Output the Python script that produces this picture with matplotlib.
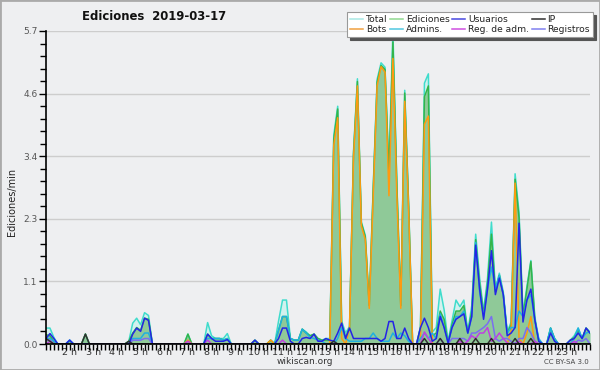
import numpy as np
import matplotlib
matplotlib.use('Agg')
import matplotlib.pyplot as plt
from matplotlib.lines import Line2D
from matplotlib.patches import Rectangle

# 10-minute buckets, starting at 1 h (one row per hour)
start_hour = 1
step_hours = 1 / 6

total = [
    0.29, 0.29, 0.12, 0, 0, 0,
    0.07, 0, 0, 0, 0.18, 0,
    0, 0, 0, 0, 0, 0,
    0, 0, 0, 0.05, 0.38, 0.47,
    0.35, 0.57, 0.52, 0, 0, 0,
    0, 0, 0, 0, 0, 0,
    0.18, 0, 0, 0, 0, 0.39,
    0.15, 0.1, 0.1, 0.1, 0.19, 0,
    0, 0, 0, 0, 0, 0.07,
    0, 0, 0, 0.07, 0, 0.42,
    0.8, 0.8, 0.1, 0.07, 0.07, 0.27,
    0.22, 0.15, 0.18, 0.1, 0.07, 0.1,
    0.1, 3.8, 4.33, 0.42, 0.2, 0.32,
    3.5, 4.83, 2.22, 1.98, 0.72, 2.85,
    4.82, 5.12, 5.04, 3.12, 5.7, 2.93,
    0.72, 4.62, 2.52, 0, 0, 0.32,
    4.75, 4.92, 0.22, 0.3, 1.0, 0.62,
    0.05, 0.42, 0.8, 0.68, 0.8, 0.22,
    0.7, 2.0, 1.2, 0.6, 1.2, 2.22,
    1.0, 1.29, 0.95, 0.22, 0.4, 3.1,
    2.4, 0.55, 1.05, 1.52, 0.5, 0.08,
    0, 0, 0.29, 0.1, 0, 0,
    0, 0.07, 0.15, 0.29, 0.1, 0.29,
    0.22,
]

ediciones = [
    0.17, 0.15, 0.05, 0, 0, 0,
    0.05, 0, 0, 0, 0.18, 0,
    0, 0, 0, 0, 0, 0,
    0, 0, 0, 0.05, 0.2, 0.3,
    0.25, 0.47, 0.45, 0, 0, 0,
    0, 0, 0, 0, 0, 0,
    0.18, 0, 0, 0, 0, 0.18,
    0.1, 0.1, 0.1, 0.07, 0.1, 0,
    0, 0, 0, 0, 0, 0.07,
    0, 0, 0, 0.07, 0, 0.25,
    0.5, 0.5, 0.1, 0.07, 0.07, 0.27,
    0.2, 0.15, 0.18, 0.1, 0.07, 0.07,
    0.07, 3.72, 4.28, 0.35, 0.12, 0.3,
    3.45, 4.78, 2.2, 1.95, 0.7, 2.8,
    4.77, 5.07, 5.0, 3.1, 5.5, 2.9,
    0.7, 4.57, 2.5, 0, 0, 0.3,
    4.5, 4.7, 0.15, 0.2, 0.6, 0.45,
    0.02, 0.35, 0.6, 0.6, 0.7, 0.2,
    0.6, 1.9, 1.1, 0.55, 1.1, 2.0,
    0.95, 1.25, 0.9, 0.2, 0.35, 3.0,
    2.3, 0.5, 1.0, 1.5, 0.45, 0.05,
    0, 0, 0.29, 0.1, 0, 0,
    0, 0.07, 0.12, 0.25, 0.1, 0.29,
    0.2,
]

bots = [
    0, 0, 0, 0, 0, 0,
    0, 0, 0, 0, 0, 0,
    0, 0, 0, 0, 0, 0,
    0, 0, 0, 0, 0, 0,
    0, 0, 0, 0, 0, 0,
    0, 0, 0, 0, 0, 0,
    0.07, 0, 0, 0, 0, 0,
    0, 0, 0, 0, 0, 0,
    0, 0, 0, 0, 0, 0,
    0, 0, 0, 0.07, 0, 0,
    0, 0, 0, 0, 0, 0,
    0, 0, 0, 0, 0, 0,
    0, 3.62, 4.12, 0.1, 0, 0.29,
    3.38, 4.7, 2.15, 1.9, 0.65, 2.7,
    4.7, 5.05, 4.95, 2.7, 5.2, 2.7,
    0.65, 4.42, 2.4, 0, 0, 0.1,
    4.0, 4.15, 0, 0, 0, 0,
    0, 0, 0, 0, 0, 0,
    0, 0, 0, 0, 0, 0,
    0, 0, 0, 0, 0.25, 2.93,
    0.1, 0, 0.2, 0.5, 0, 0,
    0, 0, 0, 0, 0, 0,
    0, 0, 0, 0, 0, 0,
    0,
]

usuarios = [
    0.1, 0.19, 0.1, 0, 0, 0,
    0.07, 0, 0, 0, 0, 0,
    0, 0, 0, 0, 0, 0,
    0, 0, 0, 0, 0.18, 0.29,
    0.23, 0.47, 0.43, 0, 0, 0,
    0, 0, 0, 0, 0, 0,
    0, 0, 0, 0, 0, 0.18,
    0.1, 0.05, 0.05, 0.05, 0.08, 0,
    0, 0, 0, 0, 0, 0.07,
    0, 0, 0, 0, 0, 0.1,
    0.29, 0.29, 0.05, 0, 0, 0.1,
    0.12, 0.1, 0.18, 0.05, 0.05, 0.1,
    0.07, 0.05, 0.2, 0.38, 0.1, 0.29,
    0.1, 0.1, 0.1, 0.1, 0.1, 0.1,
    0.1, 0.05, 0.1, 0.41, 0.41, 0.1,
    0.1, 0.29, 0.1, 0, 0, 0.3,
    0.47, 0.3, 0.05, 0.1, 0.5, 0.3,
    0.02, 0.3, 0.45, 0.5, 0.55, 0.2,
    0.5, 1.8, 1.0, 0.45, 1.0, 1.7,
    0.9, 1.2, 0.9, 0.15, 0.2, 0.3,
    2.2, 0.4, 0.8, 1.0, 0.44, 0.05,
    0, 0, 0.2, 0.05, 0, 0,
    0, 0.07, 0.1, 0.2, 0.1, 0.29,
    0.2,
]

admins = [
    0.1, 0.1, 0.05, 0, 0, 0,
    0.07, 0, 0, 0, 0, 0,
    0, 0, 0, 0, 0, 0,
    0, 0, 0, 0, 0.1, 0.1,
    0.1, 0.2, 0.2, 0, 0, 0,
    0, 0, 0, 0, 0, 0,
    0, 0, 0, 0, 0, 0.1,
    0.1, 0.1, 0.1, 0.07, 0.1, 0,
    0, 0, 0, 0, 0, 0,
    0, 0, 0, 0, 0, 0.25,
    0.5, 0.5, 0.1, 0.07, 0.07, 0.27,
    0.2, 0.12, 0.1, 0.07, 0.05, 0,
    0, 0, 0.1, 0.3, 0.1, 0.05,
    0.05, 0.05, 0.05, 0.1, 0.1, 0.2,
    0.1, 0.05, 0.05, 0.05, 0.2, 0.1,
    0.2, 0.15, 0.05, 0, 0, 0.1,
    0.2, 0.1, 0.2, 0.1, 0.55, 0.3,
    0.02, 0.3, 0.5, 0.5, 0.6, 0.2,
    0.5, 1.85, 0.95, 0.5, 1.0, 1.4,
    1.0, 1.25, 0.9, 0.2, 0.3, 0.3,
    0.6, 0.5, 0.8, 0.9, 0.44, 0.1,
    0, 0, 0.29, 0.1, 0, 0,
    0, 0, 0.1, 0.29, 0.1, 0.2,
    0.22,
]

ip = [
    0.1, 0.05, 0, 0, 0, 0,
    0, 0, 0, 0, 0.18, 0,
    0, 0, 0, 0, 0, 0,
    0, 0, 0, 0.05, 0, 0,
    0, 0, 0, 0, 0, 0,
    0, 0, 0, 0, 0, 0,
    0, 0, 0, 0, 0, 0,
    0, 0, 0, 0, 0, 0,
    0, 0, 0, 0, 0, 0,
    0, 0, 0, 0, 0, 0,
    0, 0, 0, 0, 0, 0,
    0, 0, 0, 0, 0, 0,
    0, 0.05, 0, 0, 0, 0,
    0, 0, 0, 0, 0, 0,
    0, 0, 0, 0, 0, 0,
    0, 0, 0, 0, 0, 0,
    0.1, 0, 0, 0, 0.1, 0,
    0, 0, 0, 0.1, 0, 0,
    0, 0.1, 0, 0, 0, 0.1,
    0, 0, 0, 0, 0, 0.1,
    0, 0, 0, 0.1, 0, 0,
    0, 0, 0, 0, 0, 0,
    0, 0, 0, 0, 0, 0,
    0,
]

reg_adm = [
    0, 0.05, 0, 0, 0, 0,
    0, 0, 0, 0, 0, 0,
    0, 0, 0, 0, 0, 0,
    0, 0, 0, 0, 0, 0,
    0, 0, 0, 0, 0, 0,
    0, 0, 0, 0, 0, 0,
    0.05, 0, 0, 0, 0, 0.07,
    0, 0, 0, 0, 0, 0,
    0, 0, 0, 0, 0, 0,
    0, 0, 0, 0, 0, 0,
    0.07, 0, 0, 0, 0, 0,
    0, 0, 0, 0, 0, 0,
    0, 0, 0, 0, 0, 0,
    0, 0, 0, 0, 0, 0,
    0, 0, 0, 0, 0, 0,
    0, 0, 0, 0, 0, 0,
    0.22, 0.1, 0, 0, 0, 0,
    0, 0, 0, 0.05, 0, 0.05,
    0.15, 0.1, 0.2, 0.2, 0.3, 0.05,
    0.1, 0.2, 0.1, 0.02, 0, 0,
    0.05, 0, 0, 0, 0.05, 0,
    0, 0, 0, 0, 0, 0,
    0, 0, 0.05, 0, 0, 0,
    0,
]

registros = [
    0.07, 0.07, 0, 0, 0, 0,
    0, 0, 0, 0, 0, 0,
    0, 0, 0, 0, 0, 0,
    0, 0, 0, 0, 0.07, 0.07,
    0.07, 0.1, 0.1, 0, 0, 0,
    0, 0, 0, 0, 0, 0,
    0, 0, 0, 0, 0, 0,
    0, 0, 0, 0, 0, 0,
    0, 0, 0, 0, 0, 0,
    0, 0, 0, 0, 0, 0,
    0, 0, 0, 0, 0, 0,
    0, 0, 0, 0, 0, 0,
    0, 0, 0, 0, 0, 0,
    0, 0, 0, 0, 0, 0,
    0, 0, 0, 0, 0, 0,
    0, 0, 0, 0, 0, 0,
    0, 0, 0, 0, 0.1, 0,
    0, 0.1, 0.1, 0.1, 0.1, 0.05,
    0.2, 0.2, 0.25, 0.3, 0.37, 0.5,
    0.1, 0.05, 0.1, 0.1, 0.05, 0,
    0.1, 0.1, 0.3, 0.2, 0.05, 0,
    0, 0, 0, 0, 0, 0,
    0, 0, 0, 0.07, 0.05, 0.1,
    0,
]

hour_labels = [f"{h} h" for h in range(2, 24)]
y_ticks = [0.0, 1.14, 2.28, 3.42, 4.56, 5.7]

hours = start_hour + np.arange(len(total)) * step_hours

bg = '#eeeff1'
fig = plt.figure(figsize=(6, 3.7), dpi=100, facecolor=bg)
ax = fig.add_axes([46 / 600, 26 / 370, 544 / 600, 313 / 370])
ax.set_facecolor(bg)

ax.fill_between(hours, total, color='#d2f1ee', lw=0, zorder=1)
ax.fill_between(hours, ediciones, color='#8fc998', lw=0, zorder=2)

lw = 1.1
ax.plot(hours, total, color='#3fdccc', lw=lw, zorder=3)
ax.plot(hours, ediciones, color='#33b54a', lw=lw, zorder=4)
ax.plot(hours, bots, color='#ff9a10', lw=lw, zorder=5)
ax.plot(hours, admins, color='#1fb0e0', lw=lw, zorder=6)
ax.plot(hours, registros, color='#7a6ef0', lw=lw, zorder=7)
ax.plot(hours, reg_adm, color='#c040e0', lw=lw, zorder=8)
ax.plot(hours, usuarios, color='#2424e6', lw=lw, zorder=9)
ax.plot(hours, ip, color='#303030', lw=lw, zorder=10)

ax.set_xlim(1, 24)
ax.set_ylim(0, 5.7)
ax.set_xticks(range(2, 24))
ax.set_xticklabels(hour_labels)
ax.set_xticks(hours, minor=True)
ax.set_yticks(y_ticks)
ax.set_yticklabels([f"{v:.1f}" for v in y_ticks])
ax.set_yticks(np.arange(0, 5.71, 1.14 / 5), minor=True)
ax.tick_params(axis='x', which='major', length=4, width=1, labelsize=6.8,
               pad=-1, colors='black', labelcolor='#333333')
ax.tick_params(axis='x', which='minor', length=4, width=1, colors='black')
ax.tick_params(axis='y', which='major', length=5, width=1, labelsize=6.5,
               pad=1, colors='black', labelcolor='#555555')
ax.tick_params(axis='y', which='minor', length=4, width=1, colors='black')

ax.yaxis.grid(True, color='#cdcdcd', lw=1)
ax.set_axisbelow(True)
for side in ['top', 'right']:
    ax.spines[side].set_visible(False)
for side in ['left', 'bottom']:
    ax.spines[side].set_linewidth(1.2)
    ax.spines[side].set_zorder(20)

fig.text(12 / 600, 1 - 202 / 370, 'Ediciones/min', rotation=90, ha='center',
         va='center', fontsize=7, color='#222222')

fig.text(154 / 600, 1 - 17 / 370, 'Ediciones  2019-03-17', ha='center',
         va='center', fontsize=8.4, fontweight='bold', color='#111111')
fig.text(305 / 600, 1 - 362 / 370, 'wikiscan.org', ha='center', va='center',
         fontsize=6.5, color='#333333')
fig.text(589 / 600, 1 - 362 / 370, 'CC BY-SA 3.0', ha='right', va='center',
         fontsize=5, color='#444444')

legend_items = [
    ('Total', '#a8e8e4'), ('Bots', '#f0a040'),
    ('Ediciones', '#90d890'), ('Admins.', '#50c8e0'),
    ('Usuarios', '#4848e0'), ('Reg. de adm.', '#d050e0'),
    ('IP', '#303030'), ('Registros', '#8080f0'),
]
handles = [Line2D([], [], color=c, lw=1.1) for _, c in legend_items]
labels = [n for n, _ in legend_items]
leg = fig.legend(handles, labels, ncol=4, loc='upper right',
                 bbox_to_anchor=(593 / 600, 1 - 12 / 370), fontsize=6.6,
                 frameon=True, fancybox=False,
                 shadow={'color': '#555555', 'alpha': 1},
                 framealpha=1, borderpad=0.35, labelspacing=0.1,
                 handlelength=1.4, handletextpad=0.3, columnspacing=0.3,
                 borderaxespad=0)
leg.get_frame().set_edgecolor('#999999')
leg.get_frame().set_linewidth(0.8)
for t in leg.get_texts():
    t.set_color('#222222')

fig.patches.append(Rectangle((0, 0), 1, 1, transform=fig.transFigure,
                             fill=False, edgecolor='#aaaaaa', lw=2))

fig.savefig('out.png', dpi=100, facecolor=bg)
